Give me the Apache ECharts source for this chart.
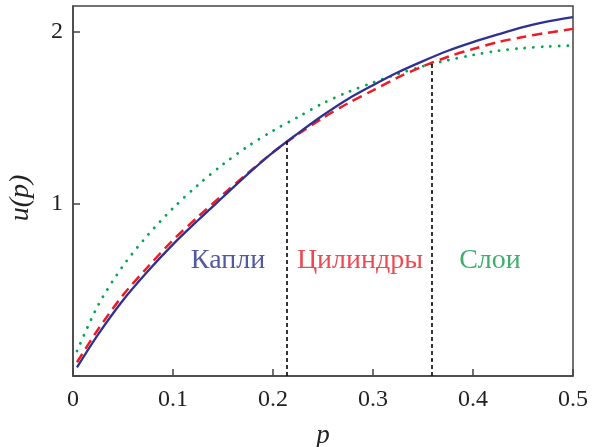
<!DOCTYPE html>
<html>
<head>
<meta charset="utf-8">
<script src="https://cdn.jsdelivr.net/npm/echarts@6/dist/echarts.min.js"></script>
<style>
  html, body { margin: 0; padding: 0; background: #fff; }
  #chart { width: 601px; height: 447px; }
</style>
</head>
<body>
<div id="chart"></div>
<script>
// p values (x axis)
const pGrid = [0.004, 0.025, 0.05, 0.075, 0.1, 0.125, 0.15, 0.175, 0.2, 0.225, 0.25,
  0.275, 0.3, 0.325, 0.35, 0.375, 0.4, 0.425, 0.45, 0.475, 0.5];
// u(p)
const kapli = [0.05, 0.24, 0.44, 0.61, 0.765, 0.905, 1.04, 1.175, 1.30, 1.41, 1.515,
  1.61, 1.69, 1.765, 1.83, 1.89, 1.94, 1.985, 2.027, 2.06, 2.085];
const cilindry = [0.08, 0.27, 0.47, 0.635, 0.79, 0.925, 1.055, 1.18, 1.30, 1.405, 1.50,
  1.585, 1.66, 1.735, 1.80, 1.855, 1.90, 1.94, 1.97, 1.995, 2.017];
const sloi = [0.145, 0.41, 0.64, 0.82, 0.975, 1.11, 1.23, 1.335, 1.425, 1.505, 1.585,
  1.65, 1.705, 1.755, 1.80, 1.835, 1.865, 1.89, 1.905, 1.915, 1.92];

// vertical boundaries between regimes: [p, u]
const bounds = [[0.214, 1.364], [0.359, 1.827]];

// region labels: [p, u, text, color]
const regionLabels = [
  [0.155, 0.67, 'Капли', '#262f8c'],
  [0.287, 0.67, 'Цилиндры', '#e81c24'],
  [0.417, 0.67, 'Слои', '#0e9a4a']
];

const serif = '"Times New Roman", "Liberation Serif", Times, serif';

function pairs(ys) {
  return pGrid.map((p, i) => [p, ys[i]]);
}

const chart = echarts.init(document.getElementById('chart'), null, { renderer: 'canvas' });

const option = {
  backgroundColor: '#ffffff',
  animation: false,
  grid: {
    left: 73, right: 28, top: 6, bottom: 71,
    containLabel: false, outerBoundsMode: 'none',
    show: true, borderColor: '#444', borderWidth: 1.5
  },
  xAxis: {
    type: 'value',
    min: 0, max: 0.5, interval: 0.1,
    name: 'p',
    nameLocation: 'middle',
    nameGap: 46,
    nameTextStyle: { fontFamily: serif, fontStyle: 'italic', fontSize: 27, color: '#222' },
    axisLine: { lineStyle: { color: '#444', width: 1.5 } },
    axisTick: { inside: true, length: 7, lineStyle: { color: '#444', width: 1.5 } },
    axisLabel: { fontFamily: serif, fontSize: 24, color: '#222', margin: 12 },
    splitLine: { show: false }
  },
  yAxis: {
    type: 'value',
    min: 0, max: 2.15, interval: 1,
    name: 'u(p)',
    nameLocation: 'middle',
    nameGap: 38,
    nameTextStyle: {
      fontFamily: serif, fontStyle: 'italic', fontSize: 28, color: '#222',
      padding: [0, 14, 0, 0]
    },
    axisLine: { lineStyle: { color: '#444', width: 1.5 } },
    axisTick: { inside: true, length: 7, lineStyle: { color: '#444', width: 1.5 } },
    axisLabel: {
      fontFamily: serif, fontSize: 24, color: '#222', margin: 10,
      showMaxLabel: false,
      formatter: v => (v === 1 || v === 2 ? String(v) : '')
    },
    splitLine: { show: false }
  },
  series: [
    {
      type: 'line', data: pairs(sloi), smooth: 0.3, showSymbol: false,
      lineStyle: { color: '#00a651', width: 2.8, type: [0.1, 8.5], cap: 'round' }
    },
    {
      type: 'line', data: pairs(cilindry), smooth: 0.3, showSymbol: false,
      lineStyle: { color: '#ed1c24', width: 2.5, type: [10, 6] }
    },
    {
      type: 'line', data: pairs(kapli), smooth: 0.3, showSymbol: false,
      lineStyle: { color: '#2e3192', width: 2.3 }
    }
  ].concat(bounds.map(b => ({
    type: 'line', data: [[b[0], 0], [b[0], b[1]]], showSymbol: false, silent: true,
    lineStyle: { color: '#111', width: 1.7, type: [4, 3] }
  }))).concat([{
    type: 'scatter', symbolSize: 0, silent: true,
    data: regionLabels.map(r => ({
      value: [r[0], r[1]],
      label: {
        show: true, position: 'inside', formatter: r[2],
        fontFamily: serif, fontSize: 28, color: r[3]
      }
    }))
  }])
};

chart.setOption(option);
</script>
</body>
</html>
